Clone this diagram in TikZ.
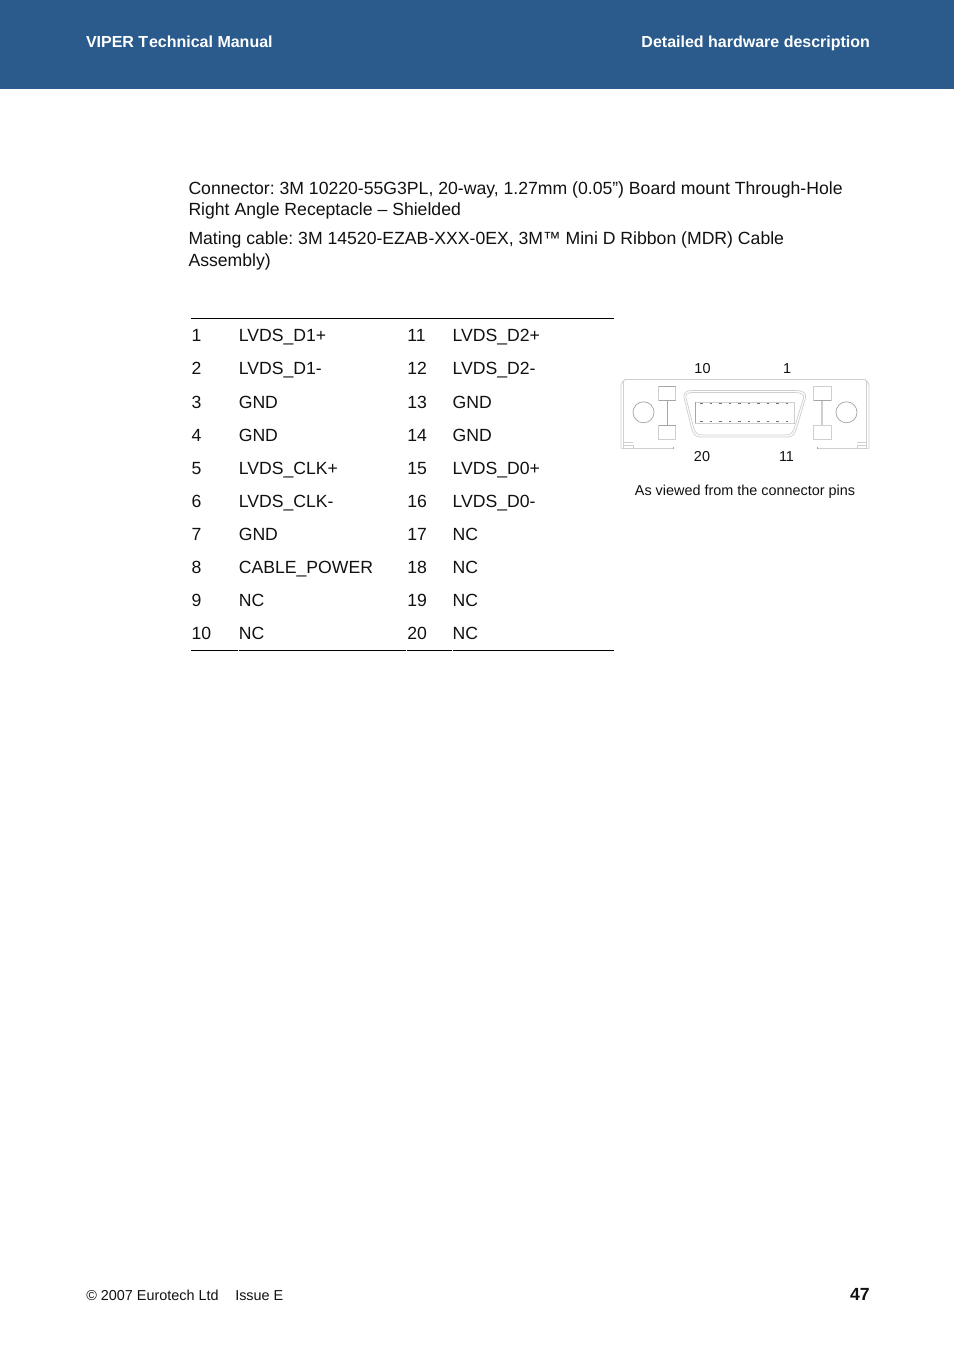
\documentclass[tikz,border=0pt]{standalone}
\usepackage{fontspec}
\setmainfont{Liberation Sans}
\frenchspacing
\definecolor{hdr}{HTML}{2A5B8C}
\definecolor{lnA}{HTML}{CFCFCF}
\definecolor{lnB}{HTML}{A6A6A6}
\definecolor{ink}{HTML}{111111}
\tikzset{
 txt/.style={anchor=base west,inner sep=0pt,outer sep=0pt,text=ink,font=\fontsize{13.22pt}{15pt}\selectfont},
 hd/.style={anchor=base west,inner sep=0pt,outer sep=0pt,text=white,font=\fontsize{12pt}{14pt}\selectfont\bfseries},
 small/.style={anchor=base,inner sep=0pt,outer sep=0pt,text=ink,font=\fontsize{10.8pt}{13pt}\selectfont},
 rule/.style={black,line width=0.75pt},
 part/.style={lnA,line width=0.55pt},
 partd/.style={lnB,line width=0.55pt},
}
\begin{document}
\begin{tikzpicture}[x=0.75pt,y=-0.75pt]
\useasboundingbox (0,0) rectangle (954,1350);
\fill[white] (0,0) rectangle (954,1350);
\fill[hdr] (0,0) rectangle (953.5,89);
\node[hd] (t1) at (86,47) {VIPER T\kern0.6pt echnical Manual};
\node[hd,anchor=base east] (t2) at (870,47) {Detailed hardware description};
\node[txt] (p1) at (188.5,194) {Connector: 3M 10220-55G3PL, 20-way, 1.27mm (0.05”) Board mount Through-Hole};
\node[txt] (p2) at (188.5,215) {Right Angle Receptacle – Shielded};
\node[txt] (p3) at (188.5,244) {Mating cable: 3M 14520-EZAB-XXX-0EX, 3M™ Mini D Ribbon (MDR) Cable};
\node[txt] (p4) at (188.5,266) {Assembly)};
\draw[rule] (191,318.5) -- (614,318.5);
\foreach \y/\a/\b/\c/\d [count=\i] in {
 341/1/LVDS\_D1+/11/LVDS\_D2+,
 374/2/LVDS\_D1-/12/LVDS\_D2-,
 408/3/GND/13/GND,
 441/4/GND/14/GND,
 474/5/LVDS\_CLK+/15/LVDS\_D0+,
 507/6/LVDS\_CLK-/16/LVDS\_D0-,
 540/7/GND/17/NC,
 573/8/CABLE\_POWER/18/NC,
 606/9/NC/19/NC,
 639/10/NC/20/NC}{
 \node[txt] (a\i) at (191.5,\y) {\a};
 \node[txt] (b\i) at (238.8,\y) {\b};
 \node[txt] (c\i) at (407.3,\y) {\c};
 \node[txt] (d\i) at (452.6,\y) {\d};
}
\draw[rule] (191,650.5) -- (238,650.5) (239,650.5) -- (406,650.5) (407,650.5) -- (452,650.5) (453,650.5) -- (614,650.5);
% connector drawing
\node[small] (n10) at (702.5,373.5) {10};
\node[small] (n1) at (787,373.5) {1};
\node[small] (n20) at (702,461.5) {20};
\node[small] (n11) at (786.5,461.5) {11};
\node[small] (cap) at (745,495) {As viewed from the connector pins};
% body outline
\draw[part] (621,449) -- (621,385) -- (623,381) (623.5,449) -- (623.5,381) -- (625,379.5) -- (865,379.5) -- (866.5,381) -- (866.5,449) (869,449) -- (869,385) -- (867,381);
\draw[part] (623.5,445) -- (633,445) -- (633,448) (623.5,442.5) -- (633,442.5) (857,448) -- (857,445) -- (866.5,445) (857,442.5) -- (866.5,442.5);
\draw[part] (622,448.5) -- (673,448.5) (817,448.5) -- (868,448.5);
\draw[partd] (673,448.5) -- (673,447) (817,448.5) -- (817,447);
% mount holes
\draw[partd] (643.5,412.3) circle (10.5);
\draw[partd] (846.5,412.3) circle (10.5);
% left bracket
\draw[part] (658.5,386.5) rectangle (675.5,400.5);
\draw[partd] (658.5,386.5) -- (675.5,386.5) (658.5,400.5) -- (675.5,400.5);
\draw[part] (658.5,425.5) rectangle (675.5,439.5);
\draw[partd] (667,400.5) -- (667,425.5);
\draw[partd] (658.5,425.5) -- (675.5,425.5);
% right bracket
\draw[part] (813.5,386.5) rectangle (831,400.5);
\draw[partd] (813.5,400.5) -- (831,400.5);
\draw[part] (813.5,425.5) rectangle (831,439.5);
\draw[part,line width=1.2pt] (822,400.5) -- (822,425.5);
% shell
\draw[part] (692,390.5) -- (796,390.5) .. controls (803,390.5) and (806.5,393) .. (805.5,398) -- (796,430) .. controls (794,435) and (792,437) .. (787,437) -- (701,437) .. controls (696,437) and (694,435) .. (692,430) -- (684,398) .. controls (683,393) and (686,390.5) .. (692,390.5) -- cycle;
\draw[part] (693,392.5) -- (795,392.5) .. controls (801,392.5) and (804.5,394.5) .. (803.5,398) -- (794,429) .. controls (792,433.5) and (790,435) .. (786,435) -- (702,435) .. controls (698,435) and (696,433.5) .. (694,429) -- (686,398) .. controls (685,394.5) and (687,392.5) .. (693,392.5) -- cycle;
% pin field
\draw[part] (695.5,402) rectangle (794.5,423);
\draw[partd] (695.5,402) -- (695.5,423);
\foreach \k in {0,...,9}{
 \draw[black!55,line width=0.8pt] ({700+\k*9.55},403.6) -- ++(2.5,0);
 \draw[black!55,line width=0.8pt] ({700+\k*9.55},421.6) -- ++(2.5,0);
}
\node[anchor=base west,inner sep=0pt,text=ink,font=\fontsize{10.8pt}{13pt}\selectfont] (f1) at (86,1300) {© 2007 Eurotech Ltd};
\node[anchor=base west,inner sep=0pt,text=ink,font=\fontsize{10.8pt}{13pt}\selectfont] (f2) at (235,1300) {Issue E};
\node[anchor=base east,inner sep=0pt,text=ink,font=\fontsize{13.2pt}{15pt}\selectfont\bfseries] (pg) at (870,1300) {47};
\end{tikzpicture}
\end{document}
